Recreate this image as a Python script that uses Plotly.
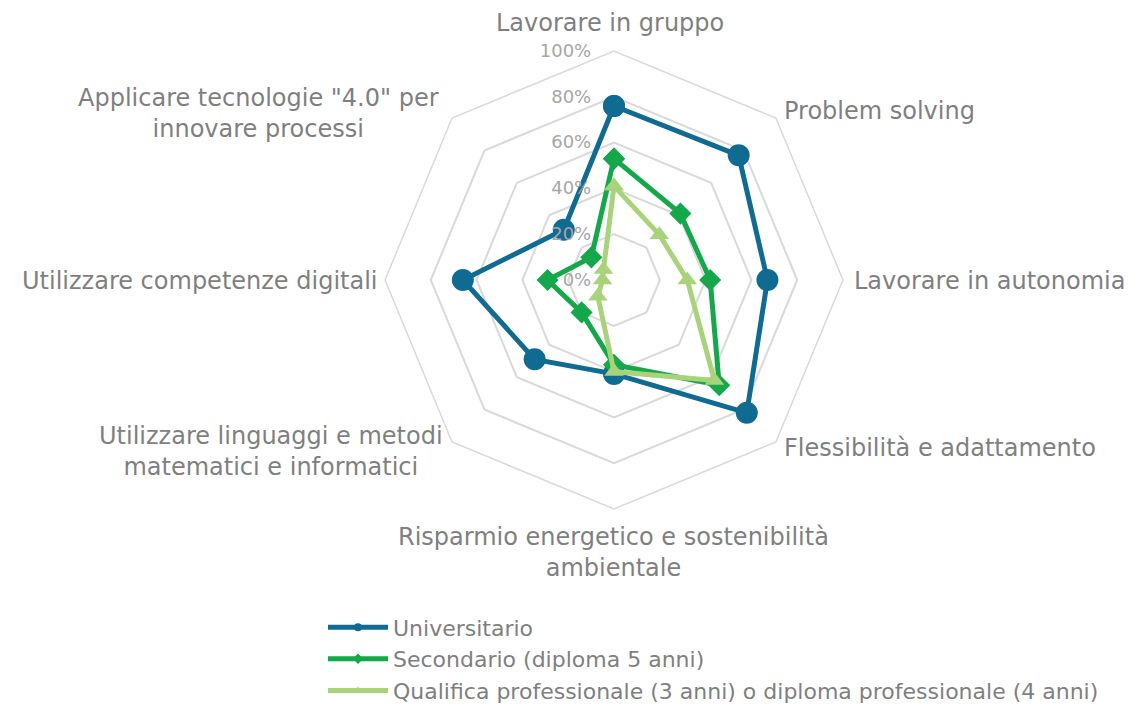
import plotly.graph_objects as go

categories = ['Lavorare in gruppo', 'Problem solving', 'Lavorare in autonomia',
              'Flessibilità e adattamento',
              'Risparmio energetico e sostenibilità<br>ambientale',
              'Utilizzare linguaggi e metodi<br>matematici e informatici',
              'Utilizzare competenze digitali',
              'Applicare tecnologie "4.0" per<br>innovare processi']

universitario = [0.76, 0.77, 0.67, 0.82, 0.41, 0.49, 0.66, 0.31]
secondario = [0.53, 0.41, 0.42, 0.65, 0.37, 0.20, 0.29, 0.14]
qualifica = [0.41, 0.28, 0.32, 0.62, 0.40, 0.10, 0.05, 0.065]

series = [
    ('Universitario', universitario, '#106b93', 'circle', 22),
    ('Secondario (diploma 5 anni)', secondario, '#14a84a', 'diamond', 17),
    ('Qualifica professionale (3 anni) o diploma professionale (4 anni)',
     qualifica, '#a9d37a', 'triangle-up', 17),
]

FONT = 'DejaVu Sans'
GRAY = '#7f7f7f'
W, H = 1143, 704

# label anchor in pixels (x, y, xanchor), page body adds an 8px offset
label_pos = [(602, 15, 'center'), (774, 103, 'left'), (844, 273, 'left'),
             (774, 440, 'left'), (605, 544, 'center'), (263, 443, 'center'),
             (372, 273, 'right'), (250, 105, 'center')]

fig = go.Figure()
for name, vals, color, symbol, size in series:
    fig.add_trace(go.Scatterpolar(
        r=vals + vals[:1],
        theta=categories + categories[:1],
        name=name,
        mode='lines+markers',
        showlegend=False,
        line=dict(color=color, width=5),
        marker=dict(symbol=symbol, size=size, color=color),
    ))
# legend entries with the small markers of the original
for name, vals, color, symbol, size in series:
    fig.add_trace(go.Scatterpolar(
        r=[None], theta=[None], name=name, mode='lines+markers',
        line=dict(color=color, width=5),
        marker=dict(symbol=symbol, size=8, color=color),
    ))

for cat, (px, py, xa) in zip(categories, label_pos):
    fig.add_annotation(x=px / W, y=1 - py / H, xref='paper', yref='paper',
                       text=cat, showarrow=False, xanchor=xa, yanchor='middle',
                       align='center', font=dict(size=24, color=GRAY))

cx, cy, R = 606, 272, 229
fig.update_layout(
    width=W, height=H,
    paper_bgcolor='white',
    margin=dict(l=0, r=0, t=0, b=0),
    font=dict(family=FONT, color=GRAY, size=20),
    polar=dict(
        domain=dict(x=[(cx - R) / W, (cx + R) / W],
                    y=[1 - (cy + R) / H, 1 - (cy - R) / H]),
        gridshape='linear',
        bgcolor='white',
        radialaxis=dict(range=[0, 1], tickvals=[0, 0.2, 0.4, 0.6, 0.8, 1.0],
                        tickformat='.0%', angle=90, tickangle=90,
                        side='counterclockwise', showline=False,
                        gridcolor='#d9d9d9', gridwidth=1.5,
                        ticks='outside', ticklen=16,
                        tickcolor='rgba(0,0,0,0)',
                        tickfont=dict(size=18, color='#a6a6a6')),
        angularaxis=dict(rotation=90, direction='clockwise', showgrid=False,
                         showline=True, linecolor='#d9d9d9', linewidth=1.5,
                         ticks='', showticklabels=False),
    ),
    legend=dict(x=0.2756, y=0.15, xanchor='left', yanchor='top',
                itemwidth=60, font=dict(size=22, color=GRAY)),
)

fig.write_html('out.html')
